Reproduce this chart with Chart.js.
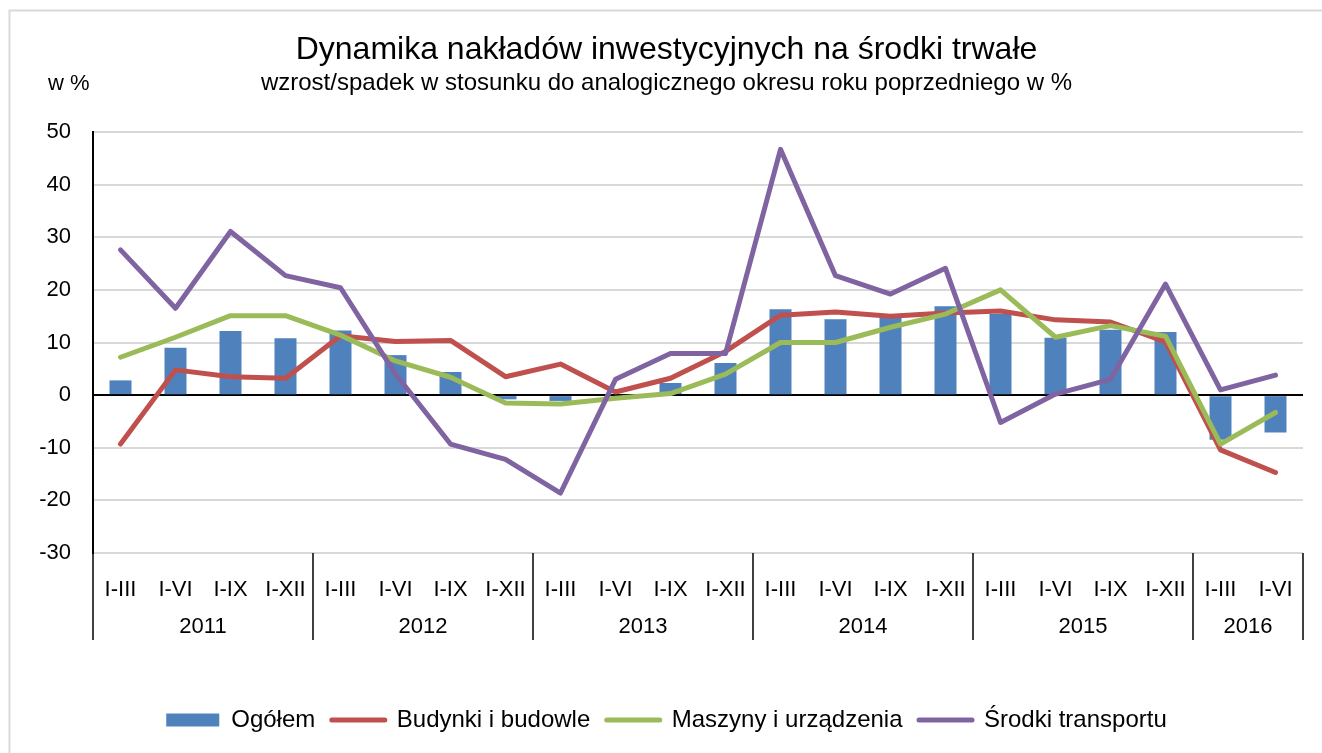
<!DOCTYPE html>
<html>

<head>
    <meta charset="utf-8">
    <title>Dynamika nakładów inwestycyjnych na środki trwałe</title>
    <script src="https://cdn.jsdelivr.net/npm/chart.js@4.4.0/dist/chart.umd.min.js"></script>
    <style>
        html, body { margin: 0; padding: 0; background: #fff; }
        #wrap { width: 1322px; height: 753px; }
    </style>
</head>

<body>
    <div id="wrap"><canvas id="plot" width="1322" height="753"></canvas></div>
    <script>
        // okresy i lata
        var periods = ['I-III', 'I-VI', 'I-IX', 'I-XII', 'I-III', 'I-VI', 'I-IX', 'I-XII',
            'I-III', 'I-VI', 'I-IX', 'I-XII', 'I-III', 'I-VI', 'I-IX', 'I-XII',
            'I-III', 'I-VI', 'I-IX', 'I-XII', 'I-III', 'I-VI']
        var years = ['2011', '2012', '2013', '2014', '2015', '2016']
        var yearSizes = [4, 4, 4, 4, 4, 2]

        // dane w %
        var ogolem = [2.8, 9.0, 12.2, 10.8, 12.3, 7.6, 4.4, -0.8, -1.1, 0.2, 2.3, 6.1,
            16.3, 14.4, 14.8, 16.9, 15.4, 10.9, 12.4, 12.0, -8.5, -7.1]
        var budynki = [-9.3, 4.8, 3.5, 3.2, 11.3, 10.2, 10.4, 3.5, 5.9, 0.6, 3.2, 8.3,
            15.2, 15.8, 15.0, 15.6, 16.0, 14.3, 13.9, 10.1, -10.4, -14.7]
        var maszyny = [7.2, 11.0, 15.1, 15.1, 11.4, 6.5, 3.4, -1.5, -1.7, -0.6, 0.3, 4.0,
            10.0, 10.0, 12.9, 15.4, 20.0, 11.0, 13.2, 11.2, -9.3, -3.3]
        var srodki = [27.6, 16.5, 31.1, 22.7, 20.4, 4.0, -9.3, -12.2, -18.6, 3.0, 7.9, 7.9,
            46.7, 22.7, 19.2, 24.1, -5.2, 0.2, 3.0, 21.1, 1.0, 3.8]

        var yTicks = { min: -30, max: 50, step: 10 }

        Chart.defaults.font.family = "'Liberation Sans', Arial, sans-serif"
        Chart.defaults.color = '#000'

        var extras = {
            id: 'extras',
            beforeDraw: function (chart) {
                var ctx = chart.ctx
                ctx.save()
                ctx.strokeStyle = '#d9d9d9'
                ctx.lineWidth = 2
                ctx.strokeRect(9.5, 10.5, 1400, 900)
                ctx.restore()
            },
            afterDraw: function (chart) {
                var ctx = chart.ctx
                var x = chart.scales.x
                var area = chart.chartArea
                var step = x.width / periods.length
                ctx.save()
                // w %
                ctx.font = "22px 'Liberation Sans', Arial, sans-serif"
                ctx.fillStyle = '#000'
                ctx.textAlign = 'left'
                ctx.textBaseline = 'middle'
                ctx.fillText('w %', 48, 84)
                // lata + separatory
                ctx.strokeStyle = '#000'
                ctx.lineWidth = 1.5
                ctx.textAlign = 'center'
                var idx = 0
                var sepBottom = area.bottom + 87
                for (var k = 0; k <= years.length; k++) {
                    var bx = x.getPixelForValue(idx) - step / 2
                    ctx.beginPath()
                    ctx.moveTo(bx, area.bottom)
                    ctx.lineTo(bx, sepBottom)
                    ctx.stroke()
                    if (k < years.length) {
                        var first = x.getPixelForValue(idx)
                        var last = x.getPixelForValue(idx + yearSizes[k] - 1)
                        ctx.fillText(years[k], (first + last) / 2, area.bottom + 74)
                        idx += yearSizes[k]
                    }
                }
                ctx.restore()
            }
        }

        var lineDs = function (label, data, color, order) {
            return {
                type: 'line',
                label: label,
                data: data,
                borderColor: color,
                backgroundColor: color,
                borderWidth: 5,
                pointRadius: 0,
                pointHoverRadius: 0,
                tension: 0,
                borderCapStyle: 'round',
                borderJoinStyle: 'round',
                fill: false,
                order: order
            }
        }

        new Chart(document.getElementById('plot'), {
            type: 'bar',
            data: {
                labels: periods,
                datasets: [{
                    label: 'Ogółem',
                    data: ogolem,
                    backgroundColor: '#4f81bd',
                    barPercentage: 0.4,
                    categoryPercentage: 1,
                    order: 4
                },
                lineDs('Budynki i budowle', budynki, '#c0504d', 3),
                lineDs('Maszyny i urządzenia', maszyny, '#9bbb59', 2),
                lineDs('Środki transportu', srodki, '#8064a2', 1)]
            },
            options: {
                responsive: false,
                animation: false,
                layout: { padding: { top: 10, left: 30, right: 19, bottom: 11 } },
                plugins: {
                    tooltip: { enabled: false },
                    title: {
                        display: true,
                        text: 'Dynamika nakładów inwestycyjnych na środki trwałe',
                        font: { size: 32, weight: 'normal' },
                        color: '#000',
                        padding: { top: 20.8, bottom: 0 }
                    },
                    subtitle: {
                        display: true,
                        text: 'wzrost/spadek w stosunku do analogicznego okresu roku poprzedniego w %',
                        font: { size: 24 },
                        color: '#000',
                        padding: { top: 0, bottom: 34 }
                    },
                    legend: {
                        position: 'bottom',
                        labels: {
                            font: { size: 24 },
                            padding: 16.5,
                            usePointStyle: true,
                            pointStyleWidth: 53,
                            boxHeight: 13,
                            generateLabels: function (chart) {
                                return chart.data.datasets.map(function (ds, i) {
                                    var isBar = i === 0
                                    return {
                                        text: ds.label,
                                        datasetIndex: i,
                                        fillStyle: isBar ? ds.backgroundColor : ds.borderColor,
                                        strokeStyle: isBar ? ds.backgroundColor : ds.borderColor,
                                        lineWidth: isBar ? 0 : 5,
                                        lineCap: 'round',
                                        pointStyle: isBar ? 'rect' : 'line',
                                        hidden: false,
                                        fontColor: '#000'
                                    }
                                })
                            }
                        }
                    }
                },
                scales: {
                    x: {
                        afterFit: function (s) { s.height = 138.5 },
                        grid: { display: false },
                        border: { display: false },
                        ticks: {
                            font: { size: 22 },
                            padding: 16,
                            autoSkip: false,
                            maxRotation: 0
                        }
                    },
                    y: {
                        min: yTicks.min,
                        max: yTicks.max,
                        afterFit: function (s) { s.width = 63 },
                        border: { display: true, color: '#000', width: 2 },
                        grid: {
                            drawTicks: false,
                            lineWidth: 2,
                            color: function (c) {
                                return c.tick && c.tick.value === 0 ? '#000' : '#d9d9d9'
                            }
                        },
                        ticks: {
                            stepSize: yTicks.step,
                            font: { size: 22 },
                            padding: 22
                        }
                    }
                }
            },
            plugins: [extras]
        })
    </script>
</body>

</html>
